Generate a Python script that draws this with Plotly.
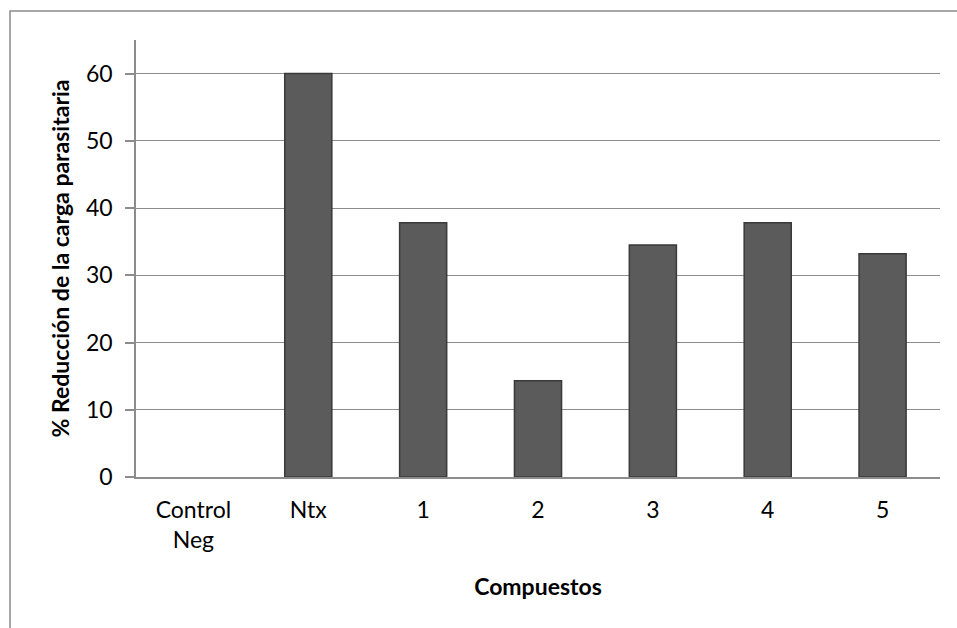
import plotly.graph_objects as go

# Compound groups and the reduction of parasite load (%)
categorias = ["Control<br>Neg", "Ntx", "1", "2", "3", "4", "5"]
reduccion = [0, 60, 37.8, 14.3, 34.5, 37.8, 33.2]

y_ticks = [0, 10, 20, 30, 40, 50, 60]

FONT = "Lato, 'Open Sans', sans-serif"
GRID = "#8c8c8c"

# no outline on empty bars so a zero value leaves no mark
edge_colors = ["rgba(0,0,0,0)" if v == 0 else "#3a3a3a" for v in reduccion]

fig = go.Figure()
fig.add_trace(go.Bar(
    x=categorias,
    y=reduccion,
    marker=dict(color="#5b5b5b", line=dict(color=edge_colors, width=1.5)),
    width=0.41,
    hoverinfo="x+y",
))

fig.update_layout(
    width=957,
    height=628,
    margin=dict(l=136, r=17, t=40, b=151),
    paper_bgcolor="white",
    plot_bgcolor="white",
    showlegend=False,
    font=dict(family=FONT, size=23, color="#000000"),
    xaxis=dict(
        showline=True,
        linecolor=GRID,
        linewidth=1.5,
        ticks="",
        ticklabelstandoff=12,
        tickfont=dict(size=23),
        title=dict(text="<b>Compuestos</b>", font=dict(size=23), standoff=27),
    ),
    yaxis=dict(
        range=[0, 65],
        tickvals=y_ticks,
        showline=True,
        linecolor=GRID,
        linewidth=1.5,
        ticks="outside",
        ticklen=9,
        tickcolor=GRID,
        tickwidth=1.5,
        showgrid=True,
        gridcolor=GRID,
        gridwidth=1.3,
        zeroline=False,
        tickfont=dict(size=23),
        ticklabelstandoff=8,
        title=dict(text="<b>% Reducción de la carga parasitaria</b>",
                   font=dict(size=23), standoff=10),
    ),
    shapes=[
        # outer chart frame
        dict(type="rect", xref="paper", yref="paper",
             x0=-0.1567, x1=1.05, y0=-0.4, y1=1.0664,
             line=dict(color="#8a8a8a", width=1.5), fillcolor="rgba(0,0,0,0)",
             layer="below"),
    ],
)

fig.write_html("out.html")
